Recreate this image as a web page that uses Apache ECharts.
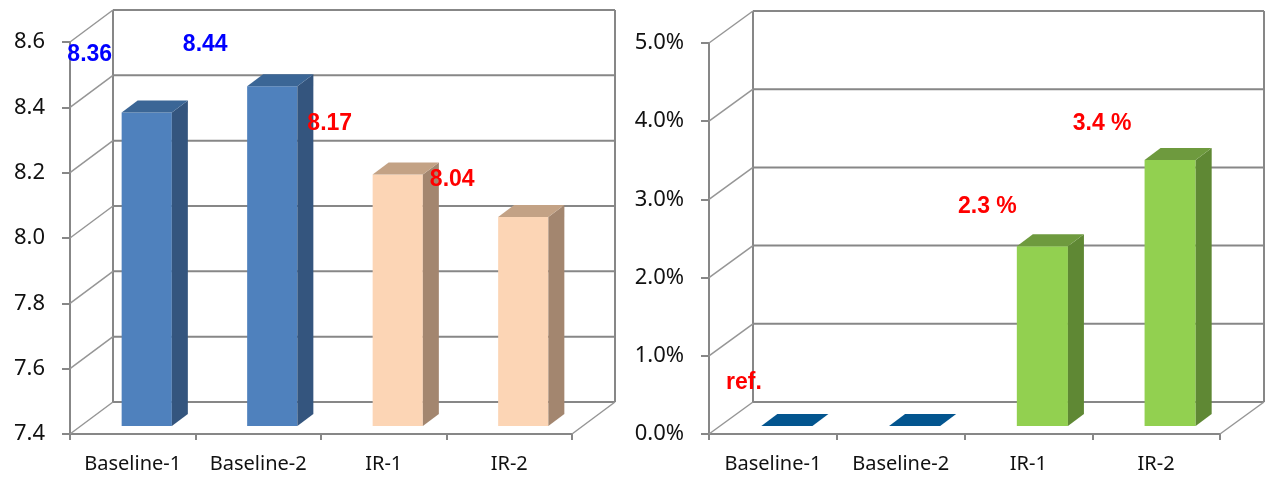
<!DOCTYPE html>
<html>
<head>
<meta charset="utf-8">
<script src="https://cdn.jsdelivr.net/npm/echarts@6/dist/echarts.min.js"></script>
<style>
  html, body { margin: 0; padding: 0; background: #ffffff; }
  #main { width: 1265px; height: 477px; }
</style>
</head>
<body>
<div id="main"></div>
<script>
// ---- data ----
const categories = ['Baseline-1', 'Baseline-2', 'IR-1', 'IR-2'];
const scoreValues = [8.36, 8.44, 8.17, 8.04];
const scoreTicks = [7.4, 7.6, 7.8, 8.0, 8.2, 8.4, 8.6];
const changeValues = [0, 0, 2.3, 3.4];
const changeTicks = [0, 1, 2, 3, 4, 5];
const referenceLabel = 'ref.';

// ---- layout & style ----
const WALL_LINE = '#878787';
const DIAG_LINE = '#969696';
const TEXT_COLOR = '#111111';
const BAR_RATIO = 0.4;              // bar width as a share of the category band
const BAR_FRONT = { dx: 14, dy: 8 }; // bar front face offset into the depth
const BAR_SIDE = { dx: 16, dy: 12 }; // bar depth (side / top faces)

const leftDepth = { dx: 43, dy: 32 };
const rightDepth = { dx: 44, dy: 32 };

const scoreFaces = [
  { front: '#4F81BD', side: '#34557E', top: '#3B6696' },
  { front: '#4F81BD', side: '#34557E', top: '#3B6696' },
  { front: '#FCD5B5', side: '#A3866F', top: '#C3A285' },
  { front: '#FCD5B5', side: '#A3866F', top: '#C3A285' }
];
const changeFaces = [
  { front: '#1F5F9A', side: '#0E4270', top: '#03558F' },
  { front: '#1F5F9A', side: '#0E4270', top: '#03558F' },
  { front: '#92D050', side: '#5F8834', top: '#6E9A3E' },
  { front: '#92D050', side: '#5F8834', top: '#6E9A3E' }
];
const scoreLabelColors = ['#0000FF', '#0000FF', '#FF0000', '#FF0000'];
const changeLabelColors = ['#FF0000', '#FF0000', '#FF0000', '#FF0000'];
// label centre relative to the top centre of each bar's front face
const scoreLabelShift = [[-57, -58], [-67, -42], [-68, -51], [-71, -37]];
const changeLabelShift = [[-43, -43], [0, 0], [-55, -39], [-68, -36]];
const LABEL_FONT = 'bold 23px "Liberation Sans", Arial, sans-serif';

function scoreText(v) { return v.toFixed(2); }
function changeText(v, i) {
  if (i === 0) return referenceLabel;
  return v > 0 ? v.toFixed(1) + ' %' : '';
}

// back wall, side wall and floor edge of a 3D plot box
function wallRenderer(ticks, depth) {
  const lo = ticks[0], hi = ticks[ticks.length - 1];
  return function (params, api) {
    const cs = params.coordSys;
    const xL = cs.x, xR = cs.x + cs.width;
    const v = api.value(1);
    const y = api.coord([0, v])[1];
    const line = (x1, y1, x2, y2, color, w) => ({
      type: 'line',
      shape: { x1, y1, x2, y2 },
      style: { stroke: color, lineWidth: w }
    });
    const children = [
      line(xL, y, xL + depth.dx, y - depth.dy, DIAG_LINE, 1.5),
      line(xL + depth.dx, y - depth.dy, xR + depth.dx, y - depth.dy, WALL_LINE, 2)
    ];
    if (v === lo) {
      const yLo = api.coord([0, lo])[1] - depth.dy;
      const yHi = api.coord([0, hi])[1] - depth.dy;
      children.push(line(xL + depth.dx, yLo, xL + depth.dx, yHi, WALL_LINE, 2));
      children.push(line(xR + depth.dx, yLo, xR + depth.dx, yHi, WALL_LINE, 2));
      children.push(line(xR, y, xR + depth.dx, y - depth.dy, DIAG_LINE, 1.5));
    }
    return { type: 'group', children };
  };
}

// geometry of a 3D column drawn on top of the front plane of the axes
function columnGeom(api, base) {
  const i = api.value(0);
  const v = api.value(1);
  const bw = api.size([1, 0])[0] * BAR_RATIO;
  const pTop = api.coord([i, v]);
  const pBase = api.coord([i, base]);
  const cx = pTop[0] + BAR_FRONT.dx;
  return {
    i, v, cx, bw,
    x0: cx - bw / 2,
    x1: cx + bw / 2,
    yt: pTop[1] - BAR_FRONT.dy,
    yb: pBase[1] - BAR_FRONT.dy
  };
}

function columnRenderer(base, faces) {
  return function (params, api) {
    const g = columnGeom(api, base);
    const f = faces[g.i];
    const sx = BAR_SIDE.dx, sy = BAR_SIDE.dy;
    const children = [];
    if (g.yb - g.yt > 0.5) {
      children.push({
        type: 'rect',
        shape: { x: g.x0, y: g.yt, width: g.bw, height: g.yb - g.yt },
        style: { fill: f.front }
      });
      children.push({
        type: 'polygon',
        shape: { points: [[g.x1, g.yt], [g.x1 + sx, g.yt - sy], [g.x1 + sx, g.yb - sy], [g.x1, g.yb]] },
        style: { fill: f.side }
      });
    }
    children.push({
      type: 'polygon',
      shape: { points: [[g.x0, g.yt], [g.x1, g.yt], [g.x1 + sx, g.yt - sy], [g.x0 + sx, g.yt - sy]] },
      style: { fill: f.top }
    });
    return { type: 'group', children };
  };
}

function labelRenderer(base, textFn, colors, shifts) {
  return function (params, api) {
    const g = columnGeom(api, base);
    const text = textFn(g.v, g.i);
    if (!text) return null;
    return {
      type: 'text',
      style: {
        text,
        x: g.cx + shifts[g.i][0],
        y: g.yt + shifts[g.i][1],
        align: 'center',
        verticalAlign: 'middle',
        fill: colors[g.i],
        font: LABEL_FONT
      }
    };
  };
}

const catAxis = (gridIndex) => ({
  type: 'category',
  gridIndex,
  data: categories,
  boundaryGap: true,
  axisLine: { show: true, lineStyle: { color: WALL_LINE, width: 2 } },
  axisTick: { show: true, length: 6, interval: 0, lineStyle: { color: WALL_LINE, width: 2 } },
  axisLabel: { interval: 0, hideOverlap: false, color: TEXT_COLOR, fontFamily: '"Noto Sans", sans-serif', fontSize: 20, margin: 20 },
  splitLine: { show: false }
});

const valAxis = (gridIndex, ticks, fmt) => ({
  type: 'value',
  gridIndex,
  min: ticks[0],
  max: ticks[ticks.length - 1],
  interval: ticks[1] - ticks[0],
  axisLine: { show: true, lineStyle: { color: WALL_LINE, width: 2 } },
  axisTick: { show: true, length: 8, lineStyle: { color: WALL_LINE, width: 2 } },
  axisLabel: { color: TEXT_COLOR, fontFamily: '"Noto Sans", sans-serif', fontSize: 22, margin: 25, formatter: fmt },
  splitLine: { show: false }
});

const tickData = (ticks) => ticks.map(t => [0, t]);
const barData = (vals) => vals.map((v, i) => [i, v]);

const chart = echarts.init(document.getElementById('main'), null, { renderer: 'canvas' });
chart.setOption({
  animation: false,
  backgroundColor: '#ffffff',
  grid: [
    { left: 70, top: 42, width: 502, height: 392, containLabel: false },
    { left: 709, top: 43, width: 511, height: 391, containLabel: false }
  ],
  xAxis: [catAxis(0), catAxis(1)],
  yAxis: [
    valAxis(0, scoreTicks, v => v.toFixed(1)),
    valAxis(1, changeTicks, v => v.toFixed(1) + '%')
  ],
  series: [
    {
      type: 'custom', name: 'score walls', xAxisIndex: 0, yAxisIndex: 0, clip: false, z: 1,
      data: tickData(scoreTicks), encode: { x: 0, y: 1 },
      renderItem: wallRenderer(scoreTicks, leftDepth), silent: true
    },
    {
      type: 'custom', name: 'score', xAxisIndex: 0, yAxisIndex: 0, clip: false, z: 3,
      data: barData(scoreValues), encode: { x: 0, y: 1 },
      renderItem: columnRenderer(scoreTicks[0], scoreFaces)
    },
    {
      type: 'custom', name: 'score labels', xAxisIndex: 0, yAxisIndex: 0, clip: false, z: 5,
      data: barData(scoreValues), encode: { x: 0, y: 1 },
      renderItem: labelRenderer(scoreTicks[0], scoreText, scoreLabelColors, scoreLabelShift), silent: true
    },
    {
      type: 'custom', name: 'change walls', xAxisIndex: 1, yAxisIndex: 1, clip: false, z: 1,
      data: tickData(changeTicks), encode: { x: 0, y: 1 },
      renderItem: wallRenderer(changeTicks, rightDepth), silent: true
    },
    {
      type: 'custom', name: 'change', xAxisIndex: 1, yAxisIndex: 1, clip: false, z: 3,
      data: barData(changeValues), encode: { x: 0, y: 1 },
      renderItem: columnRenderer(changeTicks[0], changeFaces)
    },
    {
      type: 'custom', name: 'change labels', xAxisIndex: 1, yAxisIndex: 1, clip: false, z: 5,
      data: barData(changeValues), encode: { x: 0, y: 1 },
      renderItem: labelRenderer(changeTicks[0], changeText, changeLabelColors, changeLabelShift), silent: true
    }
  ]
});
</script>
</body>
</html>
